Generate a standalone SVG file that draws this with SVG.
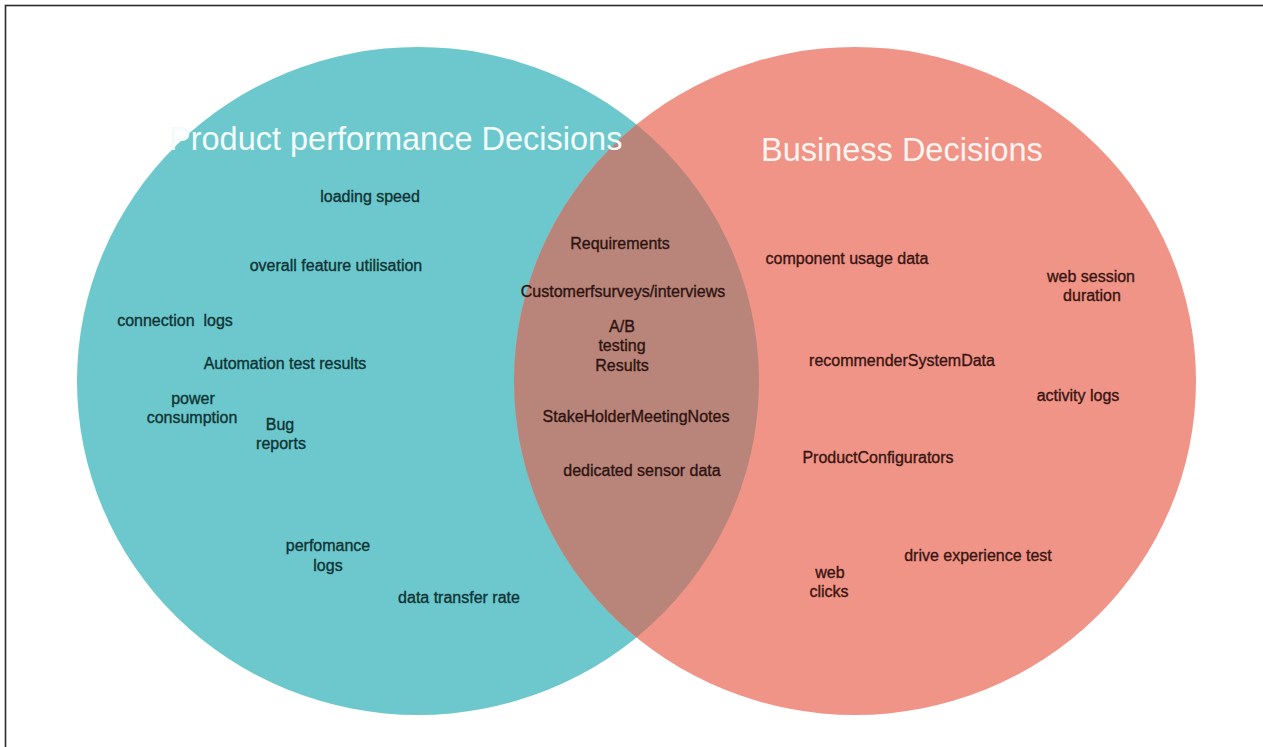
<svg xmlns="http://www.w3.org/2000/svg" width="1263" height="747" viewBox="0 0 1263 747">
  <style>
    .title { font-family: "Liberation Sans", Arial, sans-serif; font-size: 32.5px; }
    .lbl { font-family: "Liberation Sans", Arial, sans-serif; font-size: 16px; text-anchor: middle; stroke-width: 0.35px; }
    .on-teal { fill: #0f3335; stroke: #0f3335; }
    .on-pink { fill: #3a1512; stroke: #3a1512; }
    .on-lens { fill: #2e1410; stroke: #2e1410; }
  </style>

  <rect x="0" y="0" width="1263" height="747" fill="#ffffff"/>
  <!-- frame -->
  <rect x="5.5" y="5.5" width="1300" height="800" fill="none" stroke="#2b2b2b" stroke-width="1.6"/>

  <!-- sets -->
  <g id="set-product">
    <ellipse cx="418" cy="381" rx="341" ry="334" fill="#6cc8cc"/>
  </g>
  <g id="set-business">
    <ellipse cx="855" cy="381" rx="341" ry="334" fill="#ef9487"/>
  </g>
  <g id="set-overlap">
    <path d="M636.5 124.6 A341 334 0 0 1 636.5 637.4 A341 334 0 0 1 636.5 124.6 Z" fill="#b9847a"/>
  </g>

  <!-- set titles -->
  <g id="title-product">
    <text class="title" x="169" y="150" fill="#f3fbfb">Product performance Decisions</text>
  </g>
  <g id="title-business">
    <text class="title" x="761" y="161" fill="#fff4f0">Business Decisions</text>
  </g>

  <!-- product performance items -->
  <g id="item-loading-speed"><text class="lbl on-teal" x="370" y="202">loading speed</text></g>
  <g id="item-feature-utilisation"><text class="lbl on-teal" x="336" y="271">overall feature utilisation</text></g>
  <g id="item-connection-logs"><text class="lbl on-teal" x="175" y="326" xml:space="preserve">connection  logs</text></g>
  <g id="item-automation-tests"><text class="lbl on-teal" x="285" y="369">Automation test results</text></g>
  <g id="item-power">
    <text class="lbl on-teal" x="193" y="404">power</text>
    <text class="lbl on-teal" x="192" y="423">consumption</text>
  </g>
  <g id="item-bug-reports">
    <text class="lbl on-teal" x="280" y="430">Bug</text>
    <text class="lbl on-teal" x="281" y="449">reports</text>
  </g>
  <g id="item-performance-logs">
    <text class="lbl on-teal" x="328" y="551">perfomance</text>
    <text class="lbl on-teal" x="328" y="571">logs</text>
  </g>
  <g id="item-transfer-rate"><text class="lbl on-teal" x="459" y="603">data transfer rate</text></g>

  <!-- shared items -->
  <g id="item-requirements"><text class="lbl on-lens" x="620" y="249">Requirements</text></g>
  <g id="item-surveys"><text class="lbl on-lens" x="623" y="297">Customerfsurveys/interviews</text></g>
  <g id="item-ab-testing">
    <text class="lbl on-lens" x="622" y="332">A/B</text>
    <text class="lbl on-lens" x="622" y="351">testing</text>
    <text class="lbl on-lens" x="622" y="371">Results</text>
  </g>
  <g id="item-stakeholder-notes"><text class="lbl on-lens" x="636" y="422">StakeHolderMeetingNotes</text></g>
  <g id="item-sensor-data"><text class="lbl on-lens" x="642" y="476">dedicated sensor data</text></g>

  <!-- business items -->
  <g id="item-component-usage"><text class="lbl on-pink" x="847" y="264">component usage data</text></g>
  <g id="item-web-session">
    <text class="lbl on-pink" x="1091" y="282">web session</text>
    <text class="lbl on-pink" x="1092" y="301">duration</text>
  </g>
  <g id="item-recommender"><text class="lbl on-pink" x="902" y="366">recommenderSystemData</text></g>
  <g id="item-activity-logs"><text class="lbl on-pink" x="1078" y="401">activity logs</text></g>
  <g id="item-configurators"><text class="lbl on-pink" x="878" y="463">ProductConfigurators</text></g>
  <g id="item-drive-test"><text class="lbl on-pink" x="978" y="561">drive experience test</text></g>
  <g id="item-web-clicks">
    <text class="lbl on-pink" x="830" y="578">web</text>
    <text class="lbl on-pink" x="829" y="597">clicks</text>
  </g>
</svg>
